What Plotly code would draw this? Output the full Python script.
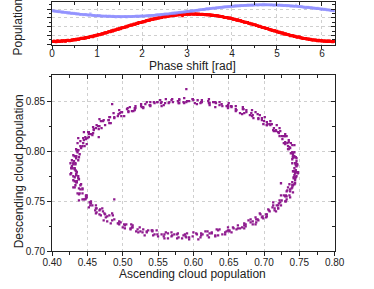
import plotly.graph_objects as go

# ---------------- data ----------------
# one entry per measured shot: phase shift, ascending and descending population
phase = [
    0.000, 0.025, 0.050, 0.075, 0.100, 0.125, 0.150, 0.175, 0.200, 0.225,
    0.250, 0.275, 0.300, 0.325, 0.350, 0.375, 0.400, 0.425, 0.450, 0.475,
    0.500, 0.525, 0.550, 0.575, 0.600, 0.625, 0.650, 0.675, 0.700, 0.725,
    0.750, 0.775, 0.800, 0.825, 0.850, 0.875, 0.900, 0.925, 0.950, 0.975,
    1.000, 1.025, 1.050, 1.075, 1.100, 1.125, 1.150, 1.175, 1.200, 1.225,
    1.250, 1.275, 1.300, 1.325, 1.350, 1.375, 1.400, 1.425, 1.450, 1.475,
    1.500, 1.525, 1.550, 1.575, 1.600, 1.625, 1.650, 1.675, 1.700, 1.725,
    1.750, 1.775, 1.800, 1.825, 1.850, 1.875, 1.900, 1.925, 1.950, 1.975,
    2.000, 2.025, 2.050, 2.075, 2.100, 2.125, 2.150, 2.175, 2.200, 2.225,
    2.250, 2.275, 2.300, 2.325, 2.350, 2.375, 2.400, 2.425, 2.450, 2.475,
    2.500, 2.525, 2.550, 2.575, 2.600, 2.625, 2.650, 2.675, 2.700, 2.725,
    2.750, 2.775, 2.800, 2.825, 2.850, 2.875, 2.900, 2.925, 2.950, 2.975,
    3.000, 3.025, 3.050, 3.075, 3.100, 3.125, 3.150, 3.175, 3.200, 3.225,
    3.250, 3.275, 3.300, 3.325, 3.350, 3.375, 3.400, 3.425, 3.450, 3.475,
    3.500, 3.525, 3.550, 3.575, 3.600, 3.625, 3.650, 3.675, 3.700, 3.725,
    3.750, 3.775, 3.800, 3.825, 3.850, 3.875, 3.900, 3.925, 3.950, 3.975,
    4.000, 4.025, 4.050, 4.075, 4.100, 4.125, 4.150, 4.175, 4.200, 4.225,
    4.250, 4.275, 4.300, 4.325, 4.350, 4.375, 4.400, 4.425, 4.450, 4.475,
    4.500, 4.525, 4.550, 4.575, 4.600, 4.625, 4.650, 4.675, 4.700, 4.725,
    4.750, 4.775, 4.800, 4.825, 4.850, 4.875, 4.900, 4.925, 4.950, 4.975,
    5.000, 5.025, 5.050, 5.075, 5.100, 5.125, 5.150, 5.175, 5.200, 5.225,
    5.250, 5.275, 5.300, 5.325, 5.350, 5.375, 5.400, 5.425, 5.450, 5.475,
    5.500, 5.525, 5.550, 5.575, 5.600, 5.625, 5.650, 5.675, 5.700, 5.725,
    5.750, 5.775, 5.800, 5.825, 5.850, 5.875, 5.900, 5.925, 5.950, 5.975,
    6.000, 6.025, 6.050, 6.075, 6.100, 6.125, 6.150, 6.175, 6.200, 6.225,
    6.250, 6.275,
    # second sweep
    0.0125, 0.0375, 0.0625, 0.0875, 0.1125, 0.1375, 0.1625, 0.1875, 0.2125, 0.2375,
    0.2625, 0.2875, 0.3125, 0.3375, 0.3625, 0.3875, 0.4125, 0.4375, 0.4625, 0.4875,
    0.5125, 0.5375, 0.5625, 0.5875, 0.6125, 0.6375, 0.6625, 0.6875, 0.7125, 0.7375,
    0.7625, 0.7875, 0.8125, 0.8375, 0.8625, 0.8875, 0.9125, 0.9375, 0.9625, 0.9875,
    1.0125, 1.0375, 1.0625, 1.0875, 1.1125, 1.1375, 1.1625, 1.1875, 1.2125, 1.2375,
    1.2625, 1.2875, 1.3125, 1.3375, 1.3625, 1.3875, 1.4125, 1.4375, 1.4625, 1.4875,
    1.5125, 1.5375, 1.5625, 1.5875, 1.6125, 1.6375, 1.6625, 1.6875, 1.7125, 1.7375,
    1.7625, 1.7875, 1.8125, 1.8375, 1.8625, 1.8875, 1.9125, 1.9375, 1.9625, 1.9875,
    2.0125, 2.0375, 2.0625, 2.0875, 2.1125, 2.1375, 2.1625, 2.1875, 2.2125, 2.2375,
    2.2625, 2.2875, 2.3125, 2.3375, 2.3625, 2.3875, 2.4125, 2.4375, 2.4625, 2.4875,
    2.5125, 2.5375, 2.5625, 2.5875, 2.6125, 2.6375, 2.6625, 2.6875, 2.7125, 2.7375,
    2.7625, 2.7875, 2.8125, 2.8375, 2.8625, 2.8875, 2.9125, 2.9375, 2.9625, 2.9875,
    3.0125, 3.0375, 3.0625, 3.0875, 3.1125, 3.1375, 3.1625, 3.1875, 3.2125, 3.2375,
    3.2625, 3.2875, 3.3125, 3.3375, 3.3625, 3.3875, 3.4125, 3.4375, 3.4625, 3.4875,
    3.5125, 3.5375, 3.5625, 3.5875, 3.6125, 3.6375, 3.6625, 3.6875, 3.7125, 3.7375,
    3.7625, 3.7875, 3.8125, 3.8375, 3.8625, 3.8875, 3.9125, 3.9375, 3.9625, 3.9875,
    4.0125, 4.0375, 4.0625, 4.0875, 4.1125, 4.1375, 4.1625, 4.1875, 4.2125, 4.2375,
    4.2625, 4.2875, 4.3125, 4.3375, 4.3625, 4.3875, 4.4125, 4.4375, 4.4625, 4.4875,
    4.5125, 4.5375, 4.5625, 4.5875, 4.6125, 4.6375, 4.6625, 4.6875, 4.7125, 4.7375,
    4.7625, 4.7875, 4.8125, 4.8375, 4.8625, 4.8875, 4.9125, 4.9375, 4.9625, 4.9875,
    5.0125, 5.0375, 5.0625, 5.0875, 5.1125, 5.1375, 5.1625, 5.1875, 5.2125, 5.2375,
    5.2625, 5.2875, 5.3125, 5.3375, 5.3625, 5.3875, 5.4125, 5.4375, 5.4625, 5.4875,
    5.5125, 5.5375, 5.5625, 5.5875, 5.6125, 5.6375, 5.6625, 5.6875, 5.7125, 5.7375,
    5.7625, 5.7875, 5.8125, 5.8375, 5.8625, 5.8875, 5.9125, 5.9375, 5.9625, 5.9875,
    6.0125, 6.0375, 6.0625, 6.0875, 6.1125, 6.1375, 6.1625, 6.1875, 6.2125, 6.2375,
    6.2625, 6.2875,
]

ascending = [
    0.433, 0.428, 0.435, 0.432, 0.427, 0.437, 0.432, 0.430, 0.435, 0.441,
    0.434, 0.440, 0.432, 0.440, 0.448, 0.439, 0.443, 0.438, 0.449, 0.448,
    0.454, 0.448, 0.452, 0.462, 0.454, 0.462, 0.471, 0.463, 0.467, 0.474,
    0.467, 0.476, 0.481, 0.478, 0.488, 0.486, 0.483, 0.495, 0.500, 0.497,
    0.503, 0.511, 0.505, 0.513, 0.519, 0.514, 0.525, 0.534, 0.529, 0.531,
    0.542, 0.542, 0.543, 0.555, 0.548, 0.558, 0.564, 0.564, 0.577, 0.569,
    0.578, 0.577, 0.589, 0.588, 0.590, 0.600, 0.594, 0.605, 0.611, 0.611,
    0.622, 0.617, 0.623, 0.631, 0.626, 0.637, 0.635, 0.649, 0.647, 0.645,
    0.656, 0.657, 0.654, 0.666, 0.672, 0.669, 0.678, 0.674, 0.681, 0.689,
    0.684, 0.692, 0.688, 0.695, 0.703, 0.703, 0.699, 0.707, 0.708, 0.715,
    0.717, 0.713, 0.720, 0.720, 0.721, 0.725, 0.730, 0.724, 0.732, 0.731,
    0.732, 0.737, 0.737, 0.734, 0.740, 0.739, 0.724, 0.744, 0.743, 0.742,
    0.745, 0.742, 0.744, 0.748, 0.744, 0.746, 0.742, 0.747, 0.745, 0.740,
    0.745, 0.746, 0.741, 0.742, 0.743, 0.738, 0.741, 0.743, 0.736, 0.734,
    0.738, 0.733, 0.728, 0.732, 0.730, 0.725, 0.730, 0.722, 0.721, 0.722,
    0.714, 0.718, 0.713, 0.705, 0.709, 0.704, 0.708, 0.697, 0.699, 0.692,
    0.694, 0.683, 0.685, 0.683, 0.675, 0.682, 0.671, 0.666, 0.670, 0.660,
    0.660, 0.649, 0.654, 0.647, 0.649, 0.637, 0.637, 0.631, 0.632, 0.623,
    0.621, 0.622, 0.610, 0.611, 0.599, 0.602, 0.600, 0.591, 0.590, 0.586,
    0.578, 0.580, 0.579, 0.569, 0.566, 0.565, 0.553, 0.555, 0.555, 0.545,
    0.549, 0.539, 0.532, 0.534, 0.527, 0.529, 0.517, 0.518, 0.517, 0.508,
    0.507, 0.508, 0.494, 0.499, 0.495, 0.488, 0.493, 0.485, 0.480, 0.482,
    0.483, 0.472, 0.467, 0.470, 0.465, 0.466, 0.458, 0.459, 0.462, 0.452,
    0.455, 0.445, 0.448, 0.450, 0.444, 0.445, 0.437, 0.446, 0.440, 0.436,
    0.441, 0.435, 0.432, 0.437, 0.434, 0.428, 0.434, 0.437, 0.430, 0.433,
    0.428, 0.434,
    # second sweep
    0.427, 0.434, 0.432, 0.426, 0.437, 0.434, 0.430, 0.438, 0.430, 0.435,
    0.438, 0.433, 0.443, 0.438, 0.443, 0.436, 0.443, 0.449, 0.445, 0.455,
    0.447, 0.457, 0.455, 0.453, 0.461, 0.468, 0.462, 0.469, 0.463, 0.472,
    0.478, 0.475, 0.473, 0.485, 0.485, 0.493, 0.488, 0.495, 0.494, 0.503,
    0.502, 0.514, 0.512, 0.511, 0.522, 0.521, 0.528, 0.524, 0.534, 0.536,
    0.545, 0.541, 0.549, 0.550, 0.561, 0.559, 0.559, 0.570, 0.569, 0.579,
    0.573, 0.584, 0.586, 0.594, 0.591, 0.599, 0.607, 0.604, 0.613, 0.610,
    0.620, 0.620, 0.631, 0.626, 0.633, 0.641, 0.635, 0.645, 0.651, 0.649,
    0.651, 0.661, 0.663, 0.663, 0.674, 0.672, 0.672, 0.681, 0.688, 0.684,
    0.691, 0.689, 0.698, 0.697, 0.694, 0.704, 0.706, 0.704, 0.715, 0.712,
    0.713, 0.720, 0.718, 0.723, 0.724, 0.722, 0.731, 0.728, 0.732, 0.730,
    0.736, 0.733, 0.737, 0.741, 0.736, 0.741, 0.740, 0.744, 0.740, 0.744,
    0.743, 0.746, 0.741, 0.746, 0.748, 0.743, 0.745, 0.744, 0.747, 0.740,
    0.746, 0.743, 0.741, 0.745, 0.740, 0.741, 0.735, 0.740, 0.737, 0.734,
    0.735, 0.730, 0.735, 0.730, 0.726, 0.729, 0.723, 0.727, 0.717, 0.720,
    0.714, 0.717, 0.711, 0.704, 0.709, 0.704, 0.697, 0.700, 0.701, 0.691,
    0.692, 0.684, 0.688, 0.680, 0.672, 0.675, 0.669, 0.670, 0.660, 0.661,
    0.653, 0.654, 0.649, 0.650, 0.640, 0.641, 0.630, 0.631, 0.628, 0.622,
    0.623, 0.612, 0.612, 0.605, 0.606, 0.599, 0.590, 0.594, 0.587, 0.587,
    0.580, 0.580, 0.570, 0.571, 0.560, 0.561, 0.558, 0.549, 0.554, 0.544,
    0.538, 0.539, 0.539, 0.529, 0.526, 0.526, 0.515, 0.518, 0.510, 0.513,
    0.506, 0.498, 0.502, 0.496, 0.498, 0.487, 0.488, 0.480, 0.481, 0.481,
    0.473, 0.475, 0.469, 0.463, 0.466, 0.467, 0.459, 0.458, 0.452, 0.457,
    0.451, 0.452, 0.444, 0.447, 0.449, 0.440, 0.443, 0.436, 0.441, 0.437,
    0.434, 0.439, 0.435, 0.430, 0.434, 0.438, 0.430, 0.431, 0.433, 0.426,
    0.432, 0.429,
]

descending = [
    0.781, 0.784, 0.779, 0.774, 0.778, 0.775, 0.770, 0.775, 0.769, 0.767,
    0.769, 0.762, 0.764, 0.766, 0.756, 0.758, 0.758, 0.751, 0.754, 0.755,
    0.749, 0.753, 0.744, 0.746, 0.746, 0.738, 0.743, 0.743, 0.737, 0.738,
    0.741, 0.734, 0.736, 0.730, 0.752, 0.736, 0.728, 0.730, 0.724, 0.729,
    0.726, 0.722, 0.727, 0.724, 0.720, 0.726, 0.720, 0.720, 0.722, 0.716,
    0.720, 0.721, 0.716, 0.717, 0.721, 0.715, 0.718, 0.713, 0.717, 0.715,
    0.718, 0.713, 0.715, 0.717, 0.714, 0.719, 0.712, 0.717, 0.716, 0.718,
    0.714, 0.720, 0.718, 0.716, 0.718, 0.722, 0.716, 0.721, 0.720, 0.719,
    0.724, 0.723, 0.719, 0.723, 0.726, 0.724, 0.731, 0.725, 0.729, 0.732,
    0.727, 0.731, 0.734, 0.737, 0.734, 0.737, 0.733, 0.741, 0.740, 0.743,
    0.740, 0.749, 0.746, 0.743, 0.748, 0.751, 0.750, 0.756, 0.752, 0.756,
    0.760, 0.754, 0.760, 0.764, 0.764, 0.763, 0.768, 0.768, 0.767, 0.773,
    0.774, 0.774, 0.779, 0.778, 0.778, 0.785, 0.780, 0.786, 0.788, 0.788,
    0.786, 0.793, 0.794, 0.794, 0.799, 0.798, 0.798, 0.806, 0.804, 0.802,
    0.808, 0.808, 0.808, 0.815, 0.809, 0.815, 0.817, 0.815, 0.818, 0.823,
    0.820, 0.826, 0.821, 0.827, 0.826, 0.829, 0.827, 0.833, 0.827, 0.833,
    0.836, 0.835, 0.833, 0.841, 0.839, 0.838, 0.842, 0.838, 0.844, 0.842,
    0.840, 0.846, 0.845, 0.845, 0.844, 0.849, 0.846, 0.849, 0.848, 0.846,
    0.850, 0.852, 0.848, 0.849, 0.852, 0.848, 0.851, 0.850, 0.862, 0.849,
    0.850, 0.852, 0.848, 0.851, 0.849, 0.848, 0.851, 0.845, 0.849, 0.848,
    0.849, 0.845, 0.847, 0.849, 0.844, 0.844, 0.841, 0.845, 0.843, 0.839,
    0.843, 0.840, 0.837, 0.839, 0.841, 0.833, 0.835, 0.847, 0.831, 0.834,
    0.828, 0.830, 0.832, 0.823, 0.825, 0.814, 0.818, 0.822, 0.823, 0.817,
    0.817, 0.819, 0.812, 0.813, 0.808, 0.811, 0.813, 0.805, 0.805, 0.799,
    0.803, 0.801, 0.795, 0.801, 0.795, 0.791, 0.795, 0.791, 0.787, 0.788,
    0.785, 0.780,
    # second sweep
    0.783, 0.777, 0.782, 0.777, 0.773, 0.776, 0.771, 0.772, 0.764, 0.770,
    0.763, 0.766, 0.762, 0.757, 0.763, 0.758, 0.752, 0.756, 0.752, 0.750,
    0.752, 0.746, 0.748, 0.749, 0.741, 0.742, 0.743, 0.736, 0.739, 0.740,
    0.735, 0.737, 0.731, 0.738, 0.731, 0.728, 0.732, 0.727, 0.728, 0.723,
    0.727, 0.724, 0.727, 0.723, 0.719, 0.722, 0.719, 0.724, 0.719, 0.721,
    0.717, 0.721, 0.717, 0.715, 0.719, 0.717, 0.713, 0.716, 0.719, 0.714,
    0.717, 0.713, 0.716, 0.714, 0.718, 0.715, 0.712, 0.718, 0.717, 0.714,
    0.716, 0.720, 0.715, 0.719, 0.722, 0.717, 0.721, 0.717, 0.721, 0.724,
    0.720, 0.722, 0.726, 0.723, 0.727, 0.723, 0.728, 0.732, 0.727, 0.730,
    0.732, 0.729, 0.735, 0.734, 0.738, 0.735, 0.742, 0.737, 0.741, 0.744,
    0.746, 0.743, 0.746, 0.749, 0.746, 0.751, 0.750, 0.756, 0.755, 0.755,
    0.756, 0.761, 0.762, 0.759, 0.767, 0.766, 0.766, 0.771, 0.769, 0.773,
    0.776, 0.775, 0.780, 0.779, 0.779, 0.783, 0.781, 0.788, 0.787, 0.792,
    0.790, 0.795, 0.794, 0.794, 0.799, 0.796, 0.802, 0.806, 0.803, 0.805,
    0.809, 0.807, 0.811, 0.815, 0.812, 0.815, 0.820, 0.815, 0.821, 0.819,
    0.823, 0.820, 0.827, 0.826, 0.830, 0.826, 0.831, 0.830, 0.834, 0.837,
    0.832, 0.836, 0.839, 0.836, 0.838, 0.841, 0.837, 0.842, 0.845, 0.841,
    0.845, 0.844, 0.843, 0.848, 0.847, 0.845, 0.849, 0.844, 0.849, 0.848,
    0.848, 0.851, 0.849, 0.847, 0.851, 0.852, 0.849, 0.850, 0.848, 0.853,
    0.851, 0.848, 0.852, 0.849, 0.848, 0.852, 0.846, 0.849, 0.848, 0.849,
    0.846, 0.849, 0.846, 0.843, 0.847, 0.845, 0.840, 0.843, 0.844, 0.840,
    0.842, 0.839, 0.835, 0.838, 0.835, 0.838, 0.834, 0.831, 0.834, 0.828,
    0.831, 0.826, 0.830, 0.826, 0.822, 0.825, 0.821, 0.824, 0.819, 0.816,
    0.819, 0.814, 0.813, 0.814, 0.807, 0.810, 0.805, 0.808, 0.804, 0.801,
    0.802, 0.797, 0.800, 0.796, 0.793, 0.794, 0.788, 0.790, 0.787, 0.788,
    0.783, 0.783,
]

phase_ticks = [0, 1, 2, 3, 4, 5, 6]
asc_ticks = [0.40, 0.45, 0.50, 0.55, 0.60, 0.65, 0.70, 0.75, 0.80]
desc_ticks = [0.70, 0.75, 0.80, 0.85]
pop_ticks = [0.4, 0.5, 0.6, 0.7, 0.8]

# ---------------- styling ----------------
FONT = "Liberation Sans, Arial, Helvetica, sans-serif"
INK = "#222222"
W, H = 374, 289
XDOM = [44.5 / W, 343.0 / W]
TOP_DOM = [1 - 45.5 / H, 1 - 2.5 / H]
BOT_DOM = [1 - 256.7 / H, 1 - 76.7 / H]

PHASE_RANGE = [0, 6.2832]
POP_RANGE = [0.395, 0.878]
ASC_RANGE = [0.40, 0.80]
DESC_RANGE = [0.70, 0.876]


def main_axis(**kw):
    d = dict(showline=True, linecolor=INK, linewidth=1, mirror=True,
             ticks="outside", ticklen=4, tickwidth=1, tickcolor=INK,
             showgrid=True, gridcolor="#cfcfcf", griddash="dot", gridwidth=1,
             zeroline=False, tickfont=dict(family=FONT, size=10, color=INK))
    d.update(kw)
    return d


def ghost_axis(**kw):
    d = dict(showline=False, ticks="inside", ticklen=4, tickwidth=1,
             tickcolor=INK, showgrid=False, zeroline=False,
             showticklabels=False)
    d.update(kw)
    return d


fig = go.Figure()

fig.add_trace(go.Scatter(
    x=phase, y=ascending, mode="markers", xaxis="x", yaxis="y",
    marker=dict(color="#ff0000", size=2.6, symbol="square", line=dict(width=0)),
    hoverinfo="skip", showlegend=False))
fig.add_trace(go.Scatter(
    x=phase, y=descending, mode="markers", xaxis="x", yaxis="y",
    marker=dict(color="rgba(140,140,255,0.45)", size=2.6, symbol="square",
                line=dict(width=0)),
    hoverinfo="skip", showlegend=False))
fig.add_trace(go.Scatter(
    x=ascending, y=descending, mode="markers", xaxis="x2", yaxis="y2",
    marker=dict(color="#8e1a8e", size=2.3, symbol="square",
                line=dict(width=0)),
    hoverinfo="skip", showlegend=False))
# empty traces that only carry the inside-tick mirror axes
fig.add_trace(go.Scatter(x=[], y=[], xaxis="x3", yaxis="y3",
                         hoverinfo="skip", showlegend=False))
fig.add_trace(go.Scatter(x=[], y=[], xaxis="x4", yaxis="y4",
                         hoverinfo="skip", showlegend=False))

fig.update_layout(
    width=W, height=H,
    margin=dict(l=0, r=0, t=0, b=0),
    paper_bgcolor="white", plot_bgcolor="white",
    font=dict(family=FONT, size=10, color=INK),
    hovermode=False,
    xaxis=main_axis(domain=XDOM, anchor="y", range=PHASE_RANGE,
                    tickvals=phase_ticks, ticklen=3, ticklabelstandoff=-4,
                    minor=dict(dtick=0.5, ticks="outside", ticklen=2,
                               tickcolor=INK, showgrid=False)),
    yaxis=main_axis(domain=TOP_DOM, anchor="x", range=POP_RANGE,
                    tickvals=pop_ticks, showticklabels=False,
                    minor=dict(dtick=0.05, ticks="outside", ticklen=2.5,
                               tickcolor=INK, showgrid=False)),
    xaxis2=main_axis(domain=XDOM, anchor="y2", range=ASC_RANGE,
                     tickvals=asc_ticks, tickformat=".2f",
                     ticklabelstandoff=-2,
                     minor=dict(dtick=0.025, ticks="outside", ticklen=2.5,
                                tickcolor=INK, showgrid=False)),
    yaxis2=main_axis(domain=BOT_DOM, anchor="x2", range=DESC_RANGE,
                     tickvals=desc_ticks, tickformat=".2f",
                     minor=dict(dtick=0.025, ticks="outside", ticklen=2.5,
                                tickcolor=INK, showgrid=False)),
    xaxis3=ghost_axis(overlaying="x", side="top", anchor="y3",
                      range=PHASE_RANGE, tickvals=phase_ticks,
                      minor=dict(dtick=0.5, ticks="inside", ticklen=2.5,
                                 tickcolor=INK)),
    yaxis3=ghost_axis(overlaying="y", side="right", anchor="x3",
                      range=POP_RANGE, tickvals=pop_ticks,
                      minor=dict(dtick=0.05, ticks="inside", ticklen=2.5,
                                 tickcolor=INK)),
    xaxis4=ghost_axis(overlaying="x2", side="top", anchor="y4",
                      range=ASC_RANGE, tickvals=asc_ticks,
                      minor=dict(dtick=0.025, ticks="inside", ticklen=2.5,
                                 tickcolor=INK)),
    yaxis4=ghost_axis(overlaying="y2", side="right", anchor="x4",
                      range=DESC_RANGE, tickvals=desc_ticks,
                      minor=dict(dtick=0.025, ticks="inside", ticklen=2.5,
                                 tickcolor=INK)),
)

title_font = dict(family=FONT, size=12, color=INK)
fig.add_annotation(text="Phase shift [rad]", xref="paper", yref="paper",
                   x=193.0 / W, y=1 - 67.5 / H,
                   xanchor="center", yanchor="middle", showarrow=False,
                   font=title_font)
fig.add_annotation(text="Population", xref="paper", yref="paper",
                   x=8.5 / W, y=1 - 28.0 / H, textangle=-90,
                   xanchor="center", yanchor="middle", showarrow=False,
                   font=title_font)
fig.add_annotation(text="Descending cloud population", xref="paper",
                   yref="paper", x=9.5 / W, y=1 - 175.0 / H, textangle=-90,
                   xanchor="center", yanchor="middle", showarrow=False,
                   font=title_font)
fig.add_annotation(text="Ascending cloud population", xref="paper",
                   yref="paper", x=193.0 / W, y=1 - 279.5 / H,
                   xanchor="center", yanchor="middle", showarrow=False,
                   font=title_font)

fig.write_html("out.html",
               config={"displayModeBar": False, "staticPlot": True},
               post_script="document.body.style.margin='0';"
                           "document.body.style.overflow='hidden';")
